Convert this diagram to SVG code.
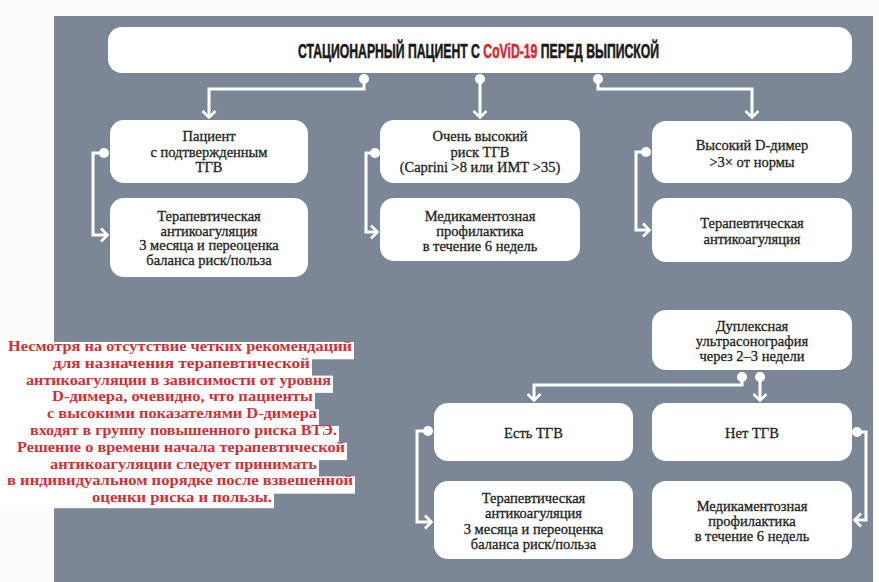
<svg xmlns="http://www.w3.org/2000/svg" width="879" height="582" viewBox="0 0 879 582">
<style>
.box{fill:#ffffff}
.t{font-family:"Liberation Serif","DejaVu Serif",serif;font-size:14.5px;fill:#231f20;stroke:#231f20;stroke-width:0.3;text-anchor:middle}
.c{fill:none;stroke:#ffffff;stroke-width:3;marker-start:url(#dot);marker-end:url(#arr)}
.r{font-family:"Liberation Serif","DejaVu Serif",serif;font-size:14px;font-weight:bold;fill:#cf3036}
.hl{fill:#ffffff}
.h{font-family:"Liberation Sans",Arial,sans-serif;font-weight:bold;font-size:21px;fill:#1a1a1a;stroke:#1a1a1a;stroke-width:0.6}
</style>
<defs>
<marker id="dot" viewBox="-6 -6 12 12" markerWidth="12" markerHeight="12" markerUnits="userSpaceOnUse" refX="0" refY="0"><circle r="5" fill="#ffffff"/></marker>
<marker id="arr" viewBox="-10 -10 20 20" markerWidth="20" markerHeight="20" markerUnits="userSpaceOnUse" refX="0" refY="0" orient="auto"><path d="M-7,-6.5 L-0.5,0 L-7,6.5" fill="none" stroke="#ffffff" stroke-width="2.6"/></marker>
</defs>
<rect x="0" y="0" width="879" height="582" fill="#fcfcfc"/>
<rect x="54" y="16" width="819" height="566" fill="#7b8797"/>

<g id="connectors">
<path class="c" d="M364,79 V89 H209 V118"/>
<path class="c" d="M480,79 V118"/>
<path class="c" d="M598,79 V89 H752 V118"/>
<path class="c" d="M104,153 H93 V235 H108"/>
<path class="c" d="M375,153 H366 V232 H378"/>
<path class="c" d="M646,152 H636 V230 H650"/>
<path class="c" d="M742,377 V385 H534 V401"/>
<path class="c" d="M760,377 V401"/>
<path class="c" d="M428,431 H417 V522 H432"/>
<path class="c" d="M857,432 H866 V520 H854"/>
</g>

<g id="title">
<rect class="box" x="108" y="27" width="744" height="46" rx="14"/>
<text class="h" transform="translate(298,58) scale(0.582,1)" x="0" y="0">СТАЦИОНАРНЫЙ ПАЦИЕНТ С <tspan style="fill:#d7282f;stroke:#d7282f">CoViD-19</tspan> ПЕРЕД ВЫПИСКОЙ</text>
</g>

<g id="n1">
<rect class="box" x="110" y="120" width="198" height="63" rx="14"/>
<text class="t" x="209" y="141">Пациент</text>
<text class="t" x="209" y="156.5">с подтвержденным</text>
<text class="t" x="209" y="172">ТГВ</text>
</g>
<g id="n2">
<rect class="box" x="380" y="120" width="200" height="63" rx="14"/>
<text class="t" x="480" y="141">Очень высокий</text>
<text class="t" x="480" y="156.5">риск ТГВ</text>
<text class="t" x="480" y="172">(Caprini &gt;8 или ИМТ &gt;35)</text>
</g>
<g id="n3">
<rect class="box" x="652" y="121" width="200" height="62" rx="14"/>
<text class="t" x="752" y="150">Высокий D-димер</text>
<text class="t" x="752" y="167">&gt;3× от нормы</text>
</g>
<g id="n4">
<rect class="box" x="110" y="198" width="198" height="79" rx="14"/>
<text class="t" x="209" y="221">Терапевтическая</text>
<text class="t" x="209" y="235.7">антикоагуляция</text>
<text class="t" x="209" y="250.3">3 месяца и переоценка</text>
<text class="t" x="209" y="265">баланса риск/польза</text>
</g>
<g id="n5">
<rect class="box" x="380" y="198" width="200" height="63" rx="14"/>
<text class="t" x="480" y="220.5">Медикаментозная</text>
<text class="t" x="480" y="236">профилактика</text>
<text class="t" x="480" y="251">в течение 6 недель</text>
</g>
<g id="n6">
<rect class="box" x="652" y="198" width="200" height="64" rx="14"/>
<text class="t" x="752" y="228">Терапевтическая</text>
<text class="t" x="752" y="244">антикоагуляция</text>
</g>
<g id="n7">
<rect class="box" x="652" y="310" width="200" height="60" rx="14"/>
<text class="t" x="752" y="331">Дуплексная</text>
<text class="t" x="752" y="346">ультрасонография</text>
<text class="t" x="752" y="361">через 2–3 недели</text>
</g>
<g id="n8">
<rect class="box" x="434" y="403" width="199" height="58" rx="14"/>
<text class="t" x="533.5" y="438">Есть ТГВ</text>
</g>
<g id="n9">
<rect class="box" x="652" y="403" width="200" height="58" rx="14"/>
<text class="t" x="752" y="438">Нет ТГВ</text>
</g>
<g id="n10">
<rect class="box" x="434" y="481" width="199" height="78" rx="14"/>
<text class="t" x="533.5" y="503">Терапевтическая</text>
<text class="t" x="533.5" y="518">антикоагуляция</text>
<text class="t" x="533.5" y="533.5">3 месяца и переоценка</text>
<text class="t" x="533.5" y="549">баланса риск/польза</text>
</g>
<g id="n11">
<rect class="box" x="652" y="481" width="200" height="78" rx="14"/>
<text class="t" x="752" y="511">Медикаментозная</text>
<text class="t" x="752" y="526">профилактика</text>
<text class="t" x="752" y="541">в течение 6 недель</text>
</g>

<g id="note">
<rect class="hl" x="0" y="342" width="354" height="17.3"/>
<rect class="hl" x="0" y="358.8" width="312" height="17.3"/>
<rect class="hl" x="0" y="375.6" width="333" height="17.3"/>
<rect class="hl" x="0" y="392.4" width="315" height="17.3"/>
<rect class="hl" x="0" y="409.2" width="319" height="17.3"/>
<rect class="hl" x="0" y="426" width="339" height="17.3"/>
<rect class="hl" x="0" y="442.8" width="347" height="17.3"/>
<rect class="hl" x="0" y="459.6" width="319" height="17.3"/>
<rect class="hl" x="0" y="476.4" width="355" height="17.3"/>
<rect class="hl" x="0" y="493.2" width="274" height="15"/>
<text class="r" x="8" y="351" textLength="344" lengthAdjust="spacingAndGlyphs">Несмотря на отсутствие четких рекомендаций</text>
<text class="r" x="53" y="367.8" textLength="257" lengthAdjust="spacingAndGlyphs">для назначения терапевтической</text>
<text class="r" x="26" y="384.6" textLength="305" lengthAdjust="spacingAndGlyphs">антикоагуляции в зависимости от уровня</text>
<text class="r" x="52" y="401.4" textLength="261" lengthAdjust="spacingAndGlyphs">D-димера, очевидно, что пациенты</text>
<text class="r" x="47" y="418.2" textLength="270" lengthAdjust="spacingAndGlyphs">с высокими показателями D-димера</text>
<text class="r" x="30" y="435" textLength="307" lengthAdjust="spacingAndGlyphs">входят в группу повышенного риска ВТЭ.</text>
<text class="r" x="17" y="451.8" textLength="328" lengthAdjust="spacingAndGlyphs">Решение о времени начала терапевтической</text>
<text class="r" x="50" y="468.6" textLength="267" lengthAdjust="spacingAndGlyphs">антикоагуляции следует принимать</text>
<text class="r" x="7" y="485.4" textLength="346" lengthAdjust="spacingAndGlyphs">в индивидуальном порядке после взвешенной</text>
<text class="r" x="92" y="502.2" textLength="180" lengthAdjust="spacingAndGlyphs">оценки риска и пользы.</text>
</g>
</svg>
